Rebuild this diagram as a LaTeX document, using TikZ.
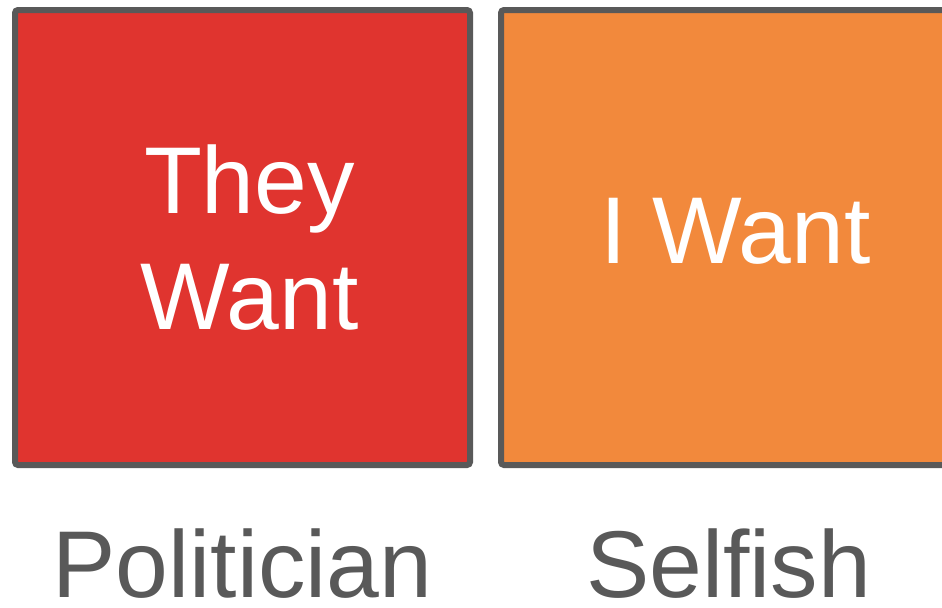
\documentclass[tikz,border=0pt]{standalone}
\usepackage{fontspec}
\setmainfont{Liberation Sans}
\usetikzlibrary{positioning}
\definecolor{theyred}{RGB}{224,52,47}
\definecolor{iorange}{RGB}{242,137,60}
\definecolor{framegray}{RGB}{89,89,89}
\tikzset{
  wantbox/.style={draw=framegray, line width=0.12cm, rounded corners=0.06cm,
    minimum width=9.1cm, minimum height=9.1cm, inner sep=0pt, outer sep=0pt},
  wanttext/.style={text=white, font=\fontsize{54}{66}\selectfont, align=center},
  typelabel/.style={text=framegray, font=\fontsize{54}{66}\selectfont,
    anchor=base, inner sep=0pt}
}

\begin{document}
\begin{tikzpicture}
\useasboundingbox (0,0) rectangle (18.84,-12.14);
\clip (0,0) rectangle (18.84,-12.14);
\node[wantbox, fill=theyred] (they) at (4.85,-4.75) {};
\node[wantbox, fill=iorange, right=0.62cm of they] (iwant) {};
\node[wanttext, xshift=0.14cm] (theytext) at (they.center) {They\\Want};
\node[wanttext, xshift=0.14cm, yshift=0.12cm] (iwanttext) at (iwant.center) {I Want};
\node[typelabel] (politician) at ([yshift=-2.64cm]they.south) {Politician};
\node[typelabel] (selfish) at ([yshift=-2.64cm]iwant.south) {Selfish};
\end{tikzpicture}
\end{document}
